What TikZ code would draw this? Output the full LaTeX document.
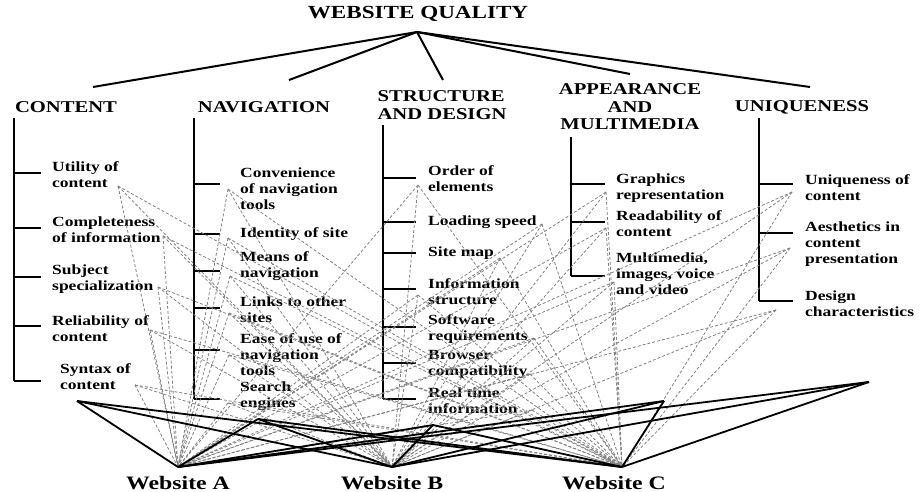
\documentclass[tikz,border=0pt]{standalone}
\usepackage{fontspec}
\setmainfont{Liberation Serif}[FakeStretch=1.25]
\usetikzlibrary{positioning}
\tikzset{goal/.style = {font = \fontsize{18.5}{20}\selectfont\bfseries, inner sep = 0}}
\tikzset{head/.style = {font = \fontsize{16.5}{17.5}\selectfont\bfseries, align = center, inner sep = 0}}
\tikzset{item/.style = {font = \fontsize{14}{16}\selectfont\bfseries, align = left, anchor = west, inner sep = 0}}
\tikzset{site/.style = {font = \fontsize{19}{21}\selectfont\bfseries, inner sep = 0}}
\tikzset{bar/.style = {line width = 2pt}}
\tikzset{link/.style = {line width = 1.8pt, line join = round}}
\tikzset{tie/.style = {gray, line width = 0.8pt, dash pattern = on 3pt off 2pt}}

\begin{document}
\begin{tikzpicture}[x = 1pt, y = -1pt]
    \useasboundingbox (0, 0) rectangle (920, 492);

    \node [goal] (quality) at (418, 14) {WEBSITE QUALITY};
    \coordinate (apex) at (417, 32);

    \node [head] (content) at (66, 107) {CONTENT};
    \node [head] (navigation) at (264, 107) {NAVIGATION};
    \node [head, align = left] (structure) at (442, 105) {STRUCTURE\\AND DESIGN};
    \node [head] (appearance) at (630, 107) {APPEARANCE\\AND\\MULTIMEDIA};
    \node [head] (uniqueness) at (802, 107) {UNIQUENESS};

    % branches from the goal
    \coordinate (hc) at (93, 87);
    \coordinate (hn) at (289, 80);
    \coordinate (hs) at (443, 80);
    \coordinate (ha) at (630, 74);
    \coordinate (hu) at (810, 87);
    \foreach \h in {hc, hn, hs, ha, hu}
        \draw [bar] (apex) -- (\h);

    \draw [bar] (14, 118) -- (14, 381);
    \draw [bar] (194, 118) -- (194, 399);
    \draw [bar] (383, 125) -- (383, 399);
    \draw [bar] (571, 137) -- (571, 276);
    \draw [bar] (759, 118) -- (759, 301);

    % content
    \foreach \y/\ly/\tx/\ty/\txt [count = \i] in {173/175/118/186/{Utility of\\content},
            228/230/163/236/{Completeness\\of information},
            277/279/158/287/{Subject\\specialization},
            326/329/150/330/{Reliability of\\content}} {
        \draw [bar] (14, \y) -- (41, \y);
        \node [item] (c\i) at (52, \ly) {\txt};
        \coordinate (tc\i) at (\tx, \ty);
    }
    \draw [bar] (14, 381) -- (41, 381);
    \node [item] (c5) at (60, 377) {Syntax of\\content};
    \coordinate (tc5) at (135, 385);

    % navigation
    \foreach \y/\ly/\tx/\ty/\txt [count = \i] in {184/189/228/189/{Convenience\\of navigation\\tools},
            234/234/228/238/{Identity of site},
            271/266/230/276/{Means of\\navigation},
            308/310/229/313/{Links to other\\sites},
            350/355/229/355/{Ease of use of\\navigation\\tools},
            399/396/228/403/{Search\\engines}} {
        \draw [bar] (194, \y) -- (220, \y);
        \node [item] (n\i) at (240, \ly) {\txt};
        \coordinate (tn\i) at (\tx, \ty);
    }

    % structure and design
    \foreach \y/\ly/\tx/\ty/\txt [count = \i] in {178/179/418/185/{Order of\\elements},
            222/222/542/224/{Loading speed},
            253/253/500/258/{Site map},
            289/292/418/295/{Information\\structure},
            327/329/534/338/{Software\\requirements},
            363/364/530/374/{Browser\\compatibility},
            399/401/532/410/{Real time\\information}} {
        \draw [bar] (383, \y) -- (416, \y);
        \node [item] (s\i) at (428, \ly) {\txt};
        \coordinate (ts\i) at (\tx, \ty);
    }

    % appearance and multimedia
    \foreach \y/\ly/\tx/\ty/\txt [count = \i] in {184/188/606/192/{Graphics\\representation},
            222/224/606/228/{Readability of\\content},
            276/274/614/282/{Multimedia,\\images, voice\\and video}} {
        \draw [bar] (571, \y) -- (605, \y);
        \node [item] (a\i) at (616, \ly) {\txt};
        \coordinate (ta\i) at (\tx, \ty);
    }

    % uniqueness
    \foreach \y/\ly/\tx/\ty/\txt [count = \i] in {184/188/792/192/{Uniqueness of\\content},
            233/244/790/248/{Aesthetics in\\content\\presentation},
            301/304/776/310/{Design\\characteristics}} {
        \draw [bar] (759, \y) -- (793, \y);
        \node [item] (u\i) at (805, \ly) {\txt};
        \coordinate (tu\i) at (\tx, \ty);
    }

    % websites
    \coordinate (A) at (178, 467);
    \coordinate (B) at (392, 467);
    \coordinate (C) at (622, 467);
    \node [site, below = 9pt of A] (website A) {Website A};
    \node [site, below = 9pt of B] (website B) {Website B};
    \node [site, below = 9pt of C, xshift = -8pt] (website C) {Website C};

    \foreach \g/\n in {c/5, n/6, s/7, a/3, u/3}
        \foreach \i in {1, ..., \n}
            \foreach \w in {A, B, C}
                \draw [tie] (t\g\i) -- (\w);

    \coordinate (k1) at (77, 401);
    \coordinate (k2) at (258, 419);
    \coordinate (k3) at (433, 425);
    \coordinate (k4) at (664, 401);
    \coordinate (k5) at (869, 382);
    \foreach \k in {1, ..., 5}
        \foreach \w in {A, B, C}
            \draw [link] (k\k) -- (\w);
\end{tikzpicture}
\end{document}
